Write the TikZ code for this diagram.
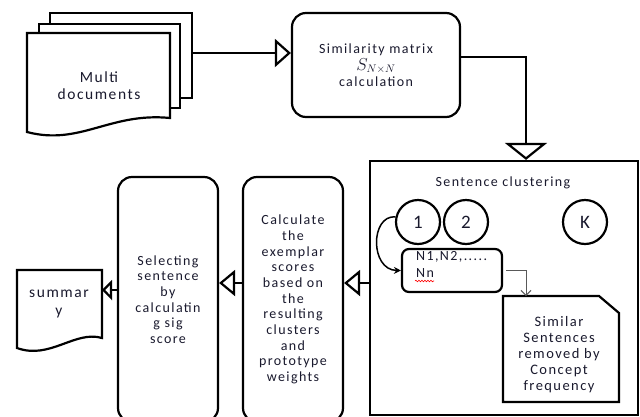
\documentclass[tikz,border=0pt]{standalone}
\usepackage{fontspec}
\setmainfont{Carlito}[LetterSpace=10]
\usetikzlibrary{arrows.meta,calc,decorations.pathmorphing}
\definecolor{txt}{RGB}{25,25,45}
\begin{document}
\begin{tikzpicture}[x=1pt,y=-1pt, line width=2.2pt,
  font=\fontsize{14}{15.7}\selectfont,
  every node/.style={text=txt},
  rbox/.style={draw, rounded corners=14pt, align=center, inner sep=0pt},
  bigtri/.style={-{Triangle[open, length=16pt, width=28pt, line width=2.2pt]}},
  downtri/.style={-{Triangle[open, length=17pt, width=42pt, line width=2.2pt]}},
  midtri/.style={-{Triangle[open, length=16pt, width=26pt, line width=2.2pt]}},
  smalltri/.style={-{Triangle[open, length=10pt, width=20pt, line width=2.2pt]}},
  circ/.style={draw, circle, minimum size=44pt, inner sep=0pt, font=\fontsize{19}{19}\selectfont}]
\useasboundingbox (0,0) rectangle (640,416);
\clip (0,0) rectangle (640,416);

% Multi documents
\draw[fill=white] (50,13) rectangle (192,98);
\draw[fill=white] (39,24) rectangle (180,108);
\draw[fill=white] (27,33) -- (170,33) -- (170,118) .. controls (110,112) and (80,146) .. (27,132) -- cycle;
\node[align=center, font=\fontsize{15.5}{17}\selectfont] (docs) at (99,86) {Multi\\documents};
\coordinate (docout) at (192,53);

% Similarity matrix
\node[rbox, minimum width=168pt, minimum height=104pt] (sim) at (376,65)
  {Similarity matrix\\[1pt] {\fontsize{16}{16}\selectfont$S_{N\times N}$}\\ calculation};

% Sentence clustering box
\node[draw, minimum width=268pt, minimum height=254pt, inner sep=0pt] (clus) at (504,288) {};
\node (clustitle) at (503,183) {Sentence clustering};
\node[circ] (c1) at (418,222) {1};
\node[circ] (c2) at (466,222) {2};
\node[circ] (cK) at (585,222) {K};
\node[draw, rounded corners=7pt, minimum width=100pt, minimum height=43pt, inner sep=0pt] (nbox) at (452,270.5) {};
\node[anchor=west, inner sep=0pt] (nt1) at (415,257) {N1,N2,.....};
\node[anchor=west, inner sep=0pt] (nt2) at (415,273) {Nn};
\draw[red, line width=0.6pt, decorate, decoration={snake, amplitude=0.8pt, segment length=3pt}] (415,281) -- (434,281);

% Similar sentences doc
\draw (503,296) -- (599,296) -- (619,313) -- (619,402) -- (503,402) -- cycle;
\node[align=center, font=\fontsize{14.5}{16}\selectfont] (simtxt) at (559,355) {Similar\\Sentences\\removed by\\Concept\\frequency};
\coordinate (simtop) at (526,296);

% Tall boxes
\node[rbox, minimum width=100pt, minimum height=245pt] (calc) at (293,299.5)
  {Calculate\\the\\exemplar\\scores\\based on\\the\\resulting\\clusters\\and\\prototype\\weights};
\node[rbox, minimum width=100pt, minimum height=245pt] (sel) at (168,299.5)
  {Selecting\\sentence\\by\\calculatin\\g sig\\score};

% Summary doc
\draw (17,270) -- (102,270) -- (102,338) .. controls (75,330) and (50,360) .. (17,348) -- cycle;
\node[align=center, font=\fontsize{15.5}{18}\selectfont] (summ) at (59,304) {summar\\y};
\coordinate (summr) at (102,290);

% Connectors
\draw[bigtri] (docout) -- (docout -| sim.west);
\draw[downtri] ([yshift=8pt]sim.east) -| (clus.north -| simtop);
\coordinate (m1) at (0,283);
\draw[midtri] (clus.west |- m1) -- (calc.east |- m1);
\draw[midtri] (calc.west |- m1) -- (sel.east |- m1);
\draw[smalltri] (sel.west |- summr) -- (summr);
\draw[-{Stealth[length=7pt,width=7pt]}, line width=1.5pt] (c1.167) .. controls (370,215) and (370,270) .. (nbox.west);
\draw[gray!70!black, line width=1pt, -{Straight Barb[length=5pt,width=10pt]}] ([xshift=3pt]nbox.east) -| (simtop);
\end{tikzpicture}
\end{document}
